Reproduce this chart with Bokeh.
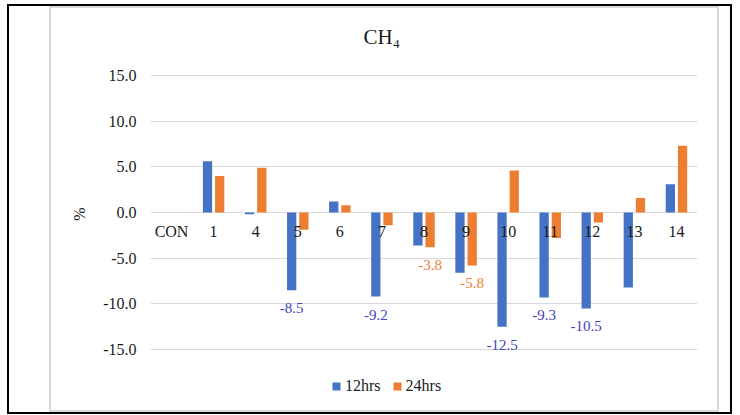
from bokeh.plotting import figure
from bokeh.models import (FactorRange, Range1d, ColumnDataSource, FixedTicker,
                          PrintfTickFormatter, Legend, LegendItem, Title)
from bokeh.core.properties import value
from bokeh.transform import dodge
from bokeh.embed import file_html
from bokeh.resources import INLINE

# ---- data ----
categories = ["CON", "1", "4", "5", "6", "7", "8", "9", "10", "11", "12", "13", "14"]
hrs12 = [0.0, 5.6, -0.2, -8.5, 1.2, -9.2, -3.6, -6.6, -12.5, -9.3, -10.5, -8.2, 3.1]
hrs24 = [0.0, 4.0, 4.9, -1.9, 0.8, -1.4, -3.8, -5.8, 4.6, -2.8, -1.1, 1.6, 7.3]
y_ticks = [-15, -10, -5, 0, 5, 10, 15]
labelled12 = ["5", "7", "10", "11", "12"]
labelled24 = ["8", "9"]
series_names = ["12hrs", "24hrs"]

FONT = "Liberation Serif"
BLUE = "#4472C4"
ORANGE = "#ED7D31"
TXT = "#1a1a1a"

src = ColumnDataSource(dict(cat=categories, h12=hrs12, h24=hrs24))

lab12 = ColumnDataSource(dict(
    cat=labelled12,
    val=[hrs12[categories.index(c)] for c in labelled12],
    txt=["%.1f" % hrs12[categories.index(c)] for c in labelled12]))
lab24 = ColumnDataSource(dict(
    cat=labelled24,
    val=[hrs24[categories.index(c)] for c in labelled24],
    txt=["%.1f" % hrs24[categories.index(c)] for c in labelled24]))

# chart frames (outer black border, inner light-grey chart-area border) as CSS background
def bar(color, x, y, w, h):
    return "linear-gradient(%s,%s) %dpx %dpx / %dpx %dpx no-repeat" % (color, color, x, y, w, h)

frames = ", ".join([
    bar("#000", 7, 4, 725, 2), bar("#000", 7, 412, 725, 2),
    bar("#000", 7, 4, 2, 410), bar("#000", 730, 4, 2, 410),
    bar("#D9D9D9", 49, 6, 670, 2), bar("#D9D9D9", 49, 410, 670, 2),
    bar("#D9D9D9", 49, 6, 2, 406), bar("#D9D9D9", 717, 6, 2, 406),
]) + ", #ffffff"

p = figure(x_range=FactorRange(factors=categories, range_padding=0),
           y_range=Range1d(-20.036, 16.533),
           width=740, height=415, output_backend="svg", toolbar_location=None,
           min_border_left=150, min_border_right=43,
           min_border_top=61, min_border_bottom=20,
           styles={"background": frames})
p.background_fill_color = None
p.border_fill_color = None
p.outline_line_color = None

p.title = Title(text="CH\u2084", align="left", offset=213, standoff=25,
                text_font=FONT, text_font_size="21px", text_font_style="normal",
                text_color=TXT)

r12 = p.vbar(x=dodge("cat", -0.145, range=p.x_range), top="h12", width=0.22,
             source=src, fill_color=BLUE, line_color=None)
r24 = p.vbar(x=dodge("cat", 0.145, range=p.x_range), top="h24", width=0.22,
             source=src, fill_color=ORANGE, line_color=None)

p.text(x=dodge("cat", -0.145, range=p.x_range), y="val", text="txt", source=lab12,
       text_font=value(FONT), text_font_size="15px", text_color="#3F3FC4",
       text_align="center", text_baseline="middle", y_offset=18)
p.text(x=dodge("cat", 0.145, range=p.x_range), y="val", text="txt", source=lab24,
       text_font=value(FONT), text_font_size="15px", text_color=ORANGE,
       text_align="center", text_baseline="middle", y_offset=18)

# y axis
p.yaxis.ticker = FixedTicker(ticks=y_ticks)
p.yaxis.formatter = PrintfTickFormatter(format="%.1f")
p.yaxis.axis_line_color = None
p.yaxis.major_tick_line_color = None
p.yaxis.minor_tick_line_color = None
p.yaxis.major_tick_out = 0
p.yaxis.major_tick_in = 0
p.yaxis.major_label_standoff = 14
p.yaxis.major_label_text_font = FONT
p.yaxis.major_label_text_font_size = "16px"
p.yaxis.major_label_text_color = TXT

# "%" axis title, placed at the zero line height
p.add_layout(Title(text="%", align="right", offset=146, standoff=26,
                   text_font=FONT, text_font_size="16px", text_font_style="normal",
                   text_color=TXT), "left")

# category axis drawn just under the zero line
p.xaxis.fixed_location = -1.17
p.xaxis.axis_line_color = None
p.xaxis.major_tick_line_color = None
p.xaxis.minor_tick_line_color = None
p.xaxis.major_tick_out = 0
p.xaxis.major_tick_in = 0
p.xaxis.major_label_standoff = 0
p.xaxis.major_label_text_font = FONT
p.xaxis.major_label_text_font_size = "16px"
p.xaxis.major_label_text_color = TXT

p.xgrid.grid_line_color = None
p.ygrid.grid_line_color = "#D9D9D9"
p.ygrid.grid_line_width = 1

legend = Legend(items=[LegendItem(label=series_names[0], renderers=[r12]),
                       LegendItem(label=series_names[1], renderers=[r24])],
                orientation="horizontal", location=(181, 0),
                padding=0, margin=0, spacing=11,
                glyph_width=10, glyph_height=10, label_standoff=4,
                label_text_font=FONT, label_text_font_size="16px",
                label_text_color=TXT, border_line_color=None,
                background_fill_alpha=0)
p.add_layout(legend)

open("out.html", "w").write(file_html(p, INLINE))
